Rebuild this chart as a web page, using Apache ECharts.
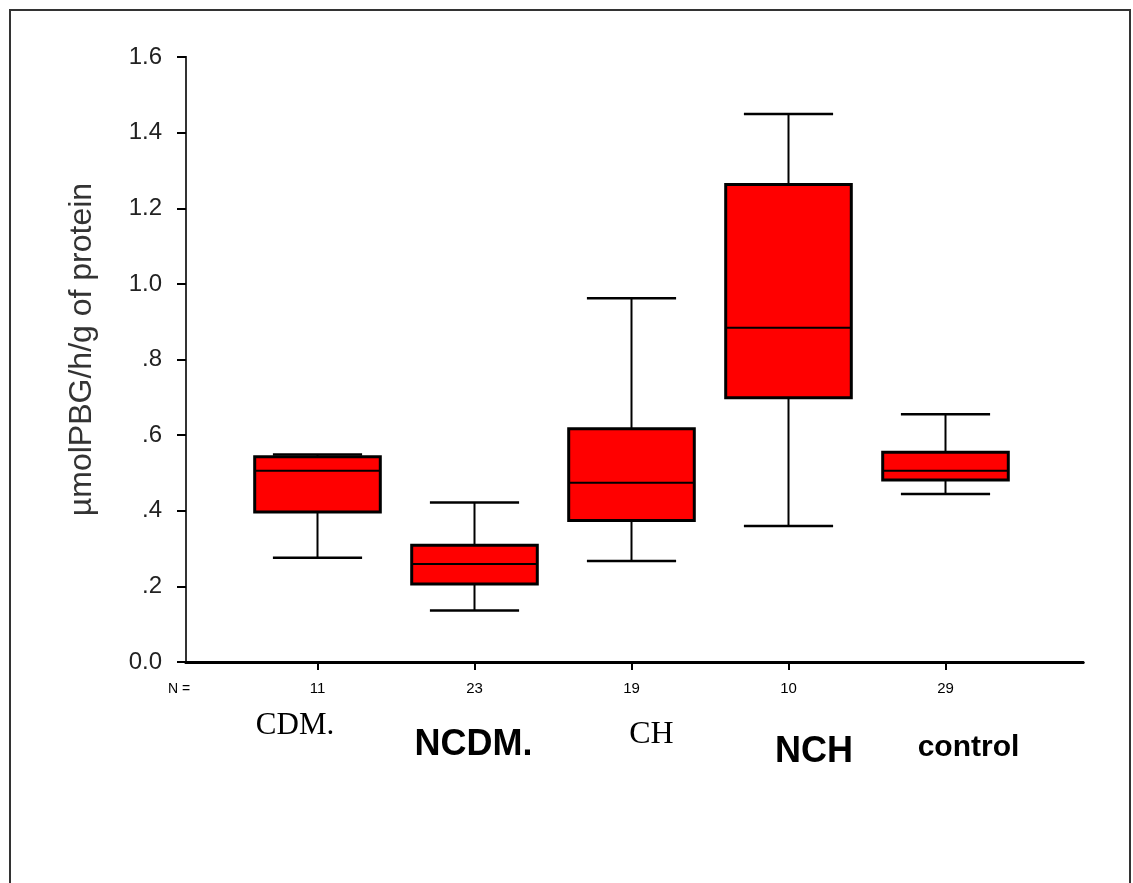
<!DOCTYPE html>
<html>
<head>
<meta charset="utf-8">
<style>
  html, body { margin: 0; padding: 0; background: #fff; }
  #chart { width: 1133px; height: 883px; }
</style>
<script src="https://cdn.jsdelivr.net/npm/echarts@6/dist/echarts.min.js"></script>
</head>
<body>
<div id="chart"></div>
<script>
// groups and sample sizes
const groups = ["CDM.", "NCDM.", "CH", "NCH", "control"];
const counts = [11, 23, 19, 10, 29];

// box statistics
const mins = [0.276, 0.136, 0.267, 0.36, 0.444];
const q1s = [0.397, 0.206, 0.374, 0.699, 0.481];
const medians = [0.506, 0.259, 0.474, 0.884, 0.506];
const q3s = [0.543, 0.309, 0.617, 1.263, 0.555];
const maxs = [0.549, 0.422, 0.962, 1.449, 0.655];

const yTickLabels = ["0.0", ".2", ".4", ".6", ".8", "1.0", "1.2", "1.4", "1.6"];

// label look per group (the original mixes fonts)
const labelStyles = [
  { fontFamily: "Liberation Serif", fontSize: 31, fontWeight: "normal", padding: [77, 45, 0, 0] },
  { fontFamily: "Liberation Sans", fontSize: 36, fontWeight: "bold", padding: [111, 2, 0, 0] },
  { fontFamily: "Liberation Serif", fontSize: 32, fontWeight: "normal", padding: [94, 0, 0, 40] },
  { fontFamily: "Liberation Sans", fontSize: 36, fontWeight: "bold", padding: [124, 0, 0, 51] },
  { fontFamily: "Liberation Sans", fontSize: 30, fontWeight: "bold", padding: [121, 0, 0, 46] },
];

const boxData = groups.map((g, i) => [i, mins[i], q1s[i], medians[i], q3s[i], maxs[i]]);

const rich = {};
labelStyles.forEach((s, i) => {
  rich["c" + i] = Object.assign({ color: "#000", lineHeight: s.fontSize }, s);
});

function renderBox(params, api) {
  const x = api.value(0);
  const pMin = api.coord([x, api.value(1)]);
  const pQ1 = api.coord([x, api.value(2)]);
  const pMed = api.coord([x, api.value(3)]);
  const pQ3 = api.coord([x, api.value(4)]);
  const pMax = api.coord([x, api.value(5)]);
  const band = api.size([1, 0])[0];
  const bw = band * 0.8;
  const cw = bw * 0.71;
  const cx = pMed[0];
  const line = { stroke: "#000", lineWidth: 2 };
  return {
    type: "group",
    children: [
      { type: "line", shape: { x1: cx, y1: pQ3[1], x2: cx, y2: pMax[1] }, style: line },
      { type: "line", shape: { x1: cx, y1: pQ1[1], x2: cx, y2: pMin[1] }, style: line },
      { type: "line", shape: { x1: cx - cw / 2, y1: pMax[1], x2: cx + cw / 2, y2: pMax[1] }, style: { stroke: "#000", lineWidth: 2.5 } },
      { type: "line", shape: { x1: cx - cw / 2, y1: pMin[1], x2: cx + cw / 2, y2: pMin[1] }, style: { stroke: "#000", lineWidth: 2.5 } },
      {
        type: "rect",
        shape: { x: cx - bw / 2, y: pQ3[1], width: bw, height: pQ1[1] - pQ3[1] },
        style: { fill: "#ff0000", stroke: "#000", lineWidth: 3 },
      },
      { type: "line", shape: { x1: cx - bw / 2, y1: pMed[1], x2: cx + bw / 2, y2: pMed[1] }, style: line },
    ],
  };
}

const chart = echarts.init(document.getElementById("chart"));

const option = {
  backgroundColor: "#fff",
  animation: false,
  graphic: [
    {
      type: "rect",
      shape: { x: 10, y: 10, width: 1120, height: 900 },
      style: { fill: "none", stroke: "#333", lineWidth: 2 },
    },
    {
      type: "text",
      left: 168,
      top: 682,
      style: { text: "N =", font: "14px 'Liberation Sans'", fill: "#000" },
    },
  ],
  grid: [
    { left: 186, right: 50, top: 57, bottom: 221 },
    { left: 239, right: 109, top: 57, bottom: 221 },
  ],
  xAxis: [
    {
      gridIndex: 0, type: "value", min: 0, max: 1, position: "bottom",
      axisLine: { show: true, lineStyle: { color: "#000", width: 3 } },
      axisTick: { show: false }, axisLabel: { show: false }, splitLine: { show: false },
    },
    {
      gridIndex: 0, type: "value", min: 0, max: 1, position: "top",
      axisLine: { show: true, lineStyle: { color: "#000", width: 3 } },
      axisTick: { show: false }, axisLabel: { show: false }, splitLine: { show: false },
    },
    {
      gridIndex: 1, type: "category", data: groups, position: "bottom",
      axisLine: { show: false },
      axisTick: { show: true, alignWithLabel: true, length: 8, lineStyle: { color: "#000", width: 2 } },
      axisLabel: {
        interval: 0, margin: 19, fontSize: 15, color: "#000",
        fontFamily: "Liberation Sans",
        formatter: (v, i) => String(counts[i]),
      },
      splitLine: { show: false },
    },
    {
      gridIndex: 1, type: "category", data: groups, position: "bottom",
      axisLine: { show: false }, axisTick: { show: false },
      axisLabel: {
        interval: 0, margin: 10,
        formatter: (v, i) => "{c" + i + "|" + v + "}",
        rich: rich,
      },
      splitLine: { show: false },
    },
  ],
  yAxis: [
    {
      gridIndex: 0, type: "value", min: 0, max: 1.6, interval: 0.2, position: "left",
      name: "µmolPBG/h/g of protein",
      nameLocation: "middle",
      nameGap: 88,
      nameTextStyle: { fontFamily: "Liberation Sans", fontSize: 32, color: "#333", padding: [0, 0, 0, 20] },
      axisLine: { show: true, lineStyle: { color: "#000", width: 2 } },
      axisTick: { show: true, inside: false, length: 9, lineStyle: { color: "#000", width: 2 } },
      axisLabel: {
        margin: 24, fontSize: 24, color: "#222", fontFamily: "Liberation Sans",
        formatter: (v) => yTickLabels[Math.round(v / 0.2)],
      },
      splitLine: { show: false },
    },
    {
      gridIndex: 0, type: "value", min: 0, max: 1.6, position: "right",
      axisLine: { show: true, lineStyle: { color: "#333", width: 2 } },
      axisTick: { show: false }, axisLabel: { show: false }, splitLine: { show: false },
    },
    {
      gridIndex: 1, type: "value", min: 0, max: 1.6, show: false,
    },
  ],
  series: [
    {
      type: "custom",
      xAxisIndex: 2,
      yAxisIndex: 2,
      renderItem: renderBox,
      encode: { x: 0, y: [1, 2, 3, 4, 5] },
      data: boxData,
      z: 3,
    },
  ],
};

chart.setOption(option);
</script>
</body>
</html>
